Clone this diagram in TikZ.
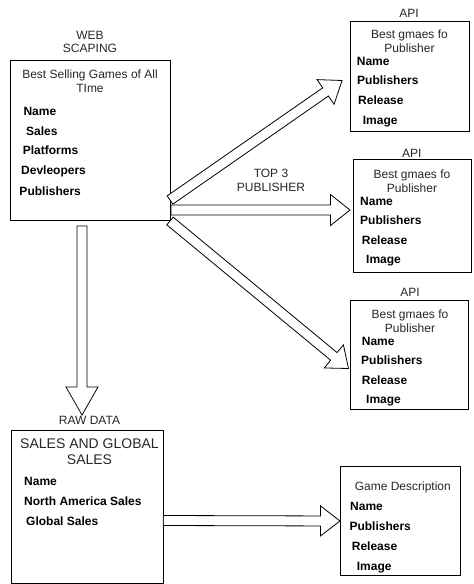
\documentclass[tikz,border=0pt]{standalone}
\usepackage{fontspec}
\setmainfont{Liberation Sans}
\usetikzlibrary{calc}
\newcommand\blockarrow[4]{% #1 tail, #2 tip, #3 head length, #4 head half width
  \draw[arrowbody] let \p1=(#1), \p2=(#2), \n1={atan2(\y2-\y1,\x2-\x1)}, \n2={veclen(\x2-\x1,\y2-\y1)} in
   ($(\p1)+(\n1+90:5pt)$) -- ($(\p1)+(\n1:\n2-#3)+(\n1+90:5pt)$) -- ($(\p1)+(\n1:\n2-#3)+(\n1+90:#4)$) -- (\p2)
   -- ($(\p1)+(\n1:\n2-#3)+(\n1-90:#4)$) -- ($(\p1)+(\n1:\n2-#3)+(\n1-90:5pt)$) -- ($(\p1)+(\n1-90:5pt)$) -- cycle;}
\begin{document}
\begin{tikzpicture}[x=1pt,y=-1pt,
  box/.style={draw, line width=0.8pt, inner sep=0pt, outer sep=0pt, anchor=north west},
  arrowbody/.style={draw, line width=0.8pt, fill=white, line join=miter},
  lbl/.style={font=\fontsize{12pt}{14pt}\selectfont, inner sep=0pt, anchor=base, text=black!85},
  fld/.style={font=\fontsize{12pt}{14pt}\selectfont\bfseries, inner sep=0pt, anchor=base west},
  big/.style={font=\fontsize{14pt}{16pt}\selectfont, inner sep=0pt, anchor=base, text=black!85}]
\useasboundingbox (0,0) rectangle (474,584);

% boxes
\node[box, minimum width=160.7pt, minimum height=159.3pt] (web) at (10,60.7) {};
\node[box, minimum width=152.3pt, minimum height=152.3pt] (raw) at (11,430.7) {};
\node[box, minimum width=120.7pt, minimum height=109.7pt] (game) at (340,466) {};
\node[box, minimum width=119.3pt, minimum height=110pt] (api1) at (350,21) {};
\node[box, minimum width=118pt, minimum height=113.5pt] (api2) at (353,159) {};
\node[box, minimum width=117.8pt, minimum height=109.3pt] (api3) at (350.7,300) {};

% arrow end points
\coordinate (dtail) at (82,226);
\coordinate (dtip) at (82,415);
\coordinate (htail) at (171,210);
\coordinate (htip) at (350,210);
\coordinate (utail) at (170,200);
\coordinate (utip) at (342,80.5);
\coordinate (ltail) at (170,221);
\coordinate (ltip) at (348.5,368.5);
\coordinate (btail) at (163.3,520.5);
\coordinate (btip) at (340,521);

\blockarrow{dtail}{dtip}{28pt}{16pt}
\blockarrow{htail}{htip}{19.5pt}{15.5pt}
\blockarrow{utail}{utip}{20pt}{15pt}
\blockarrow{ltail}{ltip}{19pt}{15pt}
\blockarrow{btail}{btip}{19.5pt}{15pt}

% web scraping box
\node[lbl] (t1) at (90,39.3) {WEB};
\node[lbl] (t2) at (90,52) {SCAPING};
\node[lbl] (t3) at (90,78.3) {Best Selling Games of All};
\node[lbl] (t4) at (90,92) {TIme};
\node[fld] (w1) at (23.3,115) {Name};
\node[fld] (w2) at (26,135) {Sales};
\node[fld] (w3) at (22.7,154.3) {Platforms};
\node[fld] (w4) at (21,174.3) {Devleopers};
\node[fld] (w5) at (19.3,195) {Publishers};

% top 3 label
\node[lbl] (p1) at (271,177.5) {TOP 3};
\node[lbl] (p2) at (271,191.5) {PUBLISHER};

% API 1
\node[lbl] (a1) at (409,17) {API};
\node[lbl] (a1t) at (409.5,38.6) {Best gmaes fo};
\node[lbl] (a1u) at (409.5,52.6) {Publisher};
\node[fld] (a1n) at (356.7,65.8) {Name};
\node[fld] (a1p) at (357,84.8) {Publishers};
\node[fld] (a1r) at (358,104.6) {Release};
\node[fld] (a1i) at (362.7,124) {Image};

% API 2
\node[lbl] (a2) at (411.7,157) {API};
\node[lbl] (a2t) at (412,178.6) {Best gmaes fo};
\node[lbl] (a2u) at (412,192.3) {Publisher};
\node[fld] (a2n) at (360,205.3) {Name};
\node[fld] (a2p) at (360,224.3) {Publishers};
\node[fld] (a2r) at (361.7,244.3) {Release};
\node[fld] (a2i) at (366,263.6) {Image};

% API 3
\node[lbl] (a3) at (410,296) {API};
\node[lbl] (a3t) at (410,318.6) {Best gmaes fo};
\node[lbl] (a3u) at (410,332.3) {Publisher};
\node[fld] (a3n) at (361.7,345.3) {Name};
\node[fld] (a3p) at (361,364.6) {Publishers};
\node[fld] (a3r) at (361.7,384.3) {Release};
\node[fld] (a3i) at (366,403.3) {Image};

% raw data box
\node[lbl] (r0) at (89.5,424.3) {RAW DATA};
\node[big] (r1) at (89.5,448) {SALES AND GLOBAL};
\node[big] (r2) at (89.5,464) {SALES};
\node[fld] (r3) at (24,485.3) {Name};
\node[fld] (r4) at (24,505) {North America Sales};
\node[fld] (r5) at (26,525) {Global Sales};

% game description box
\node[lbl] (g0) at (402.8,490.3) {Game Description};
\node[fld] (g1) at (350,510.3) {Name};
\node[fld] (g2) at (349.3,530.3) {Publishers};
\node[fld] (g3) at (351.7,550.3) {Release};
\node[fld] (g4) at (356.7,570.3) {Image};
\end{tikzpicture}
\end{document}
